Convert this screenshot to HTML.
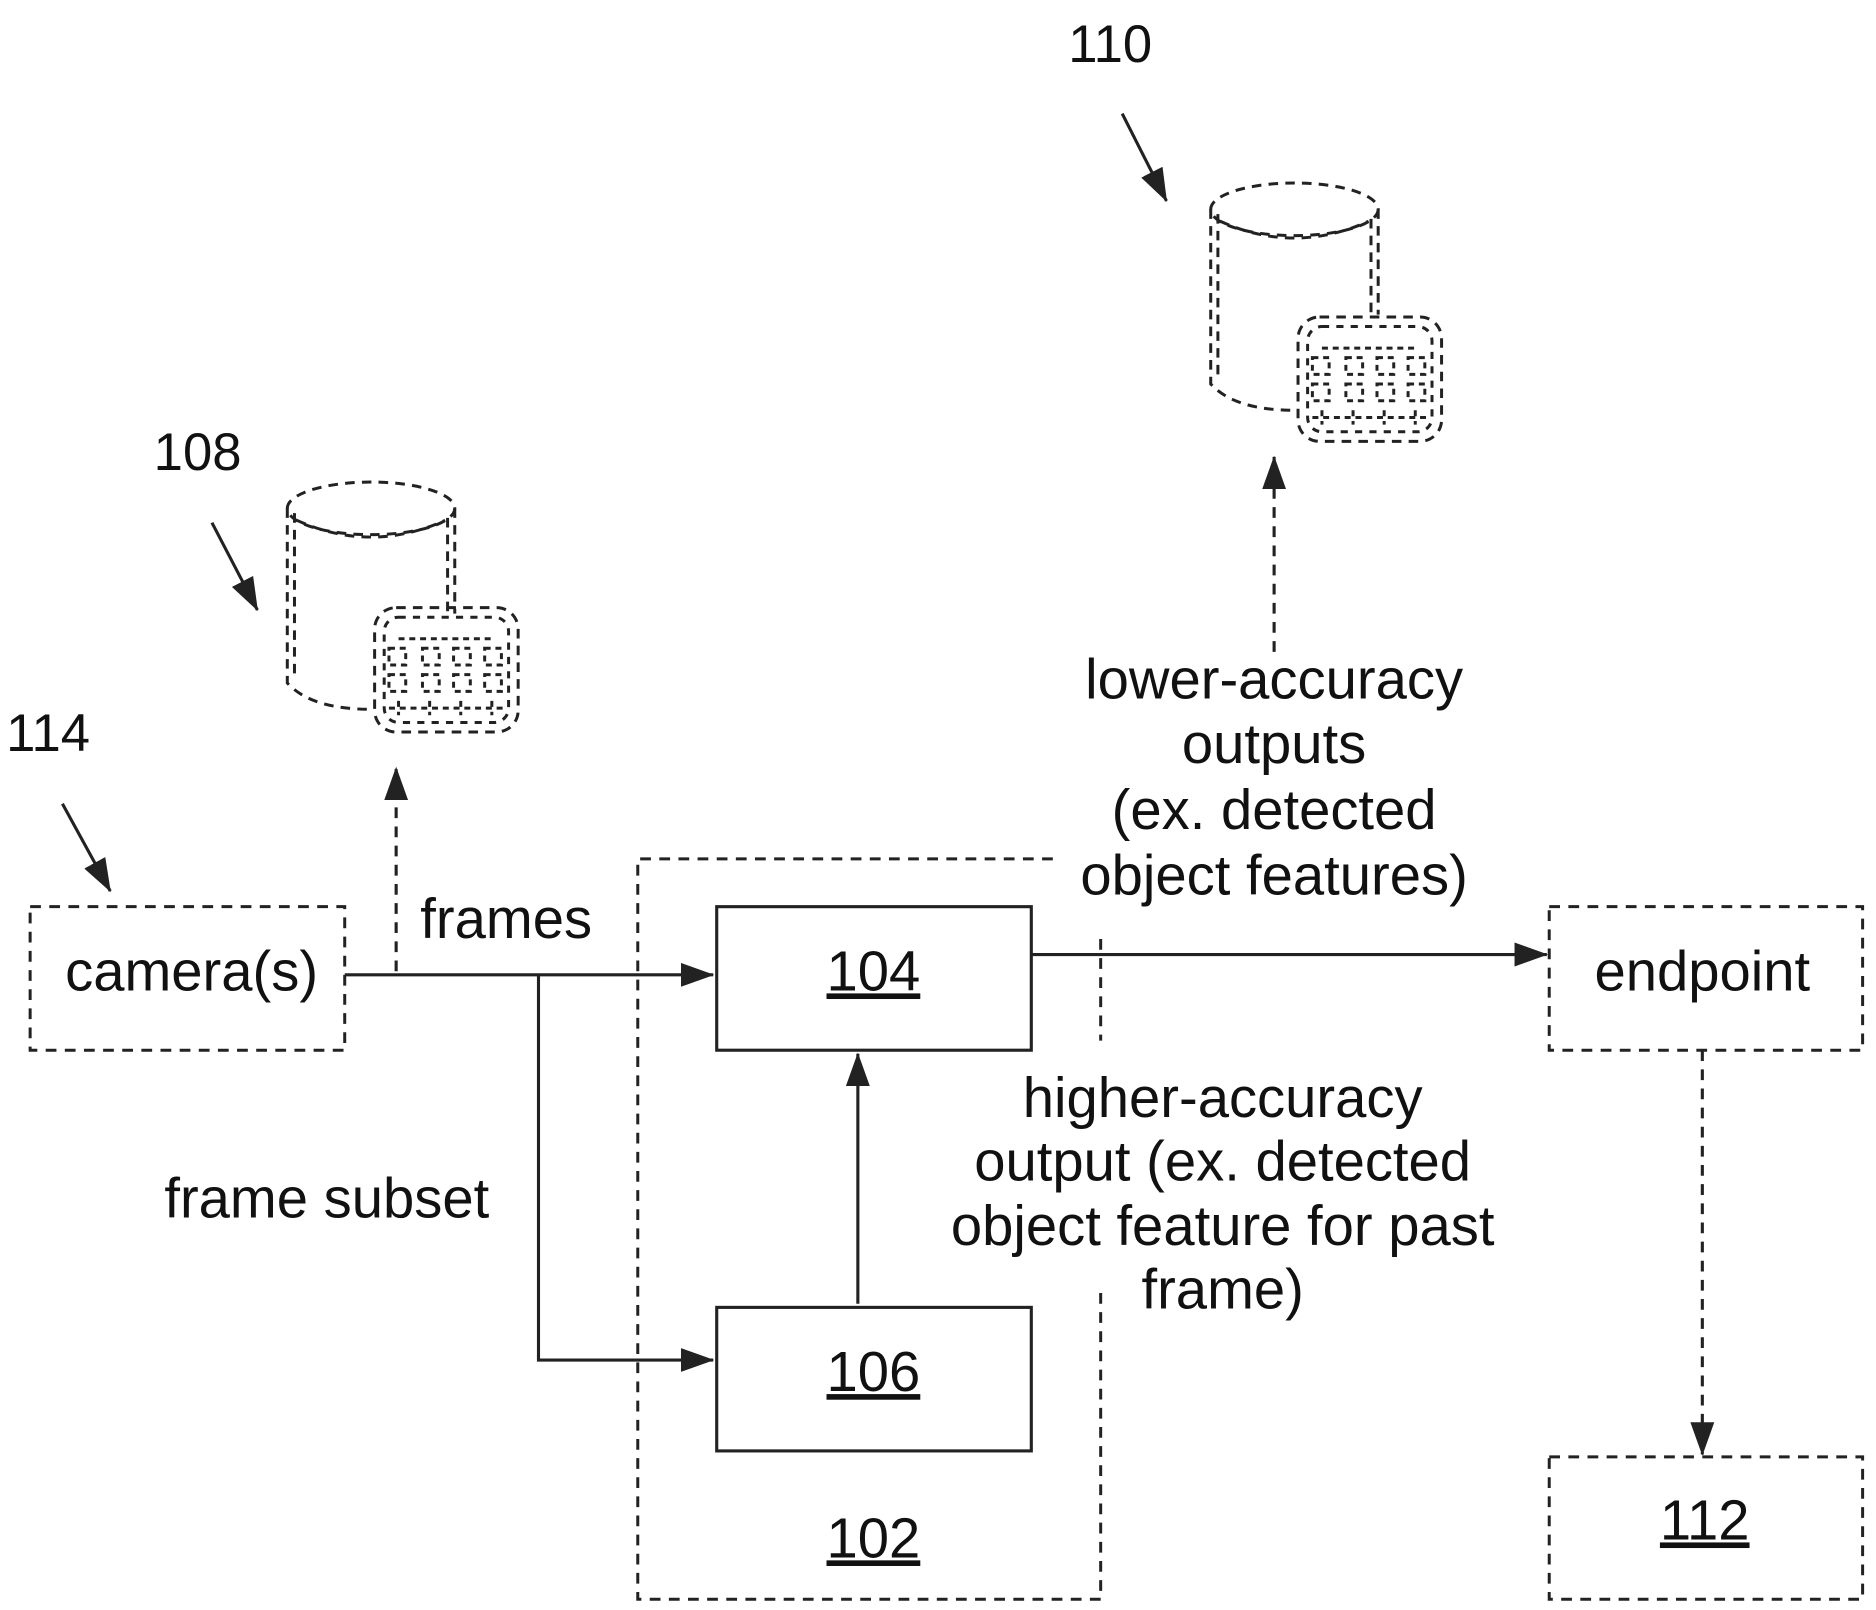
<!DOCTYPE html>
<html><head><meta charset="utf-8"><style>
html,body{margin:0;padding:0;background:#fff;}
svg{display:block;}
text{font-family:"Liberation Sans",sans-serif;fill:#111;}
</style></head><body>
<svg width="1876" height="1610" viewBox="0 0 1568 1346" xmlns="http://www.w3.org/2000/svg">
<defs>
<marker id="b" markerWidth="28" markerHeight="20" refX="27" refY="10" orient="auto" markerUnits="userSpaceOnUse" viewBox="0 0 28 20">
<path d="M0,0 L28,10 L0,20 z" fill="#222"/></marker>
<g id="grid">
<rect x="0" y="0" width="120" height="104" rx="18" fill="none" stroke="#222" stroke-width="2.5" stroke-dasharray="8,6"/>
<rect x="8" y="8" width="104" height="88" rx="12" fill="none" stroke="#222" stroke-width="2.5" stroke-dasharray="6,6"/>
<g stroke="#222" stroke-width="2.5" stroke-dasharray="5,4" fill="none">
<rect x="12" y="34" width="14" height="14"/><rect x="40" y="34" width="14" height="14"/><rect x="66" y="34" width="14" height="14"/><rect x="92" y="34" width="14" height="14"/>
<rect x="12" y="56" width="14" height="14"/><rect x="40" y="56" width="14" height="14"/><rect x="66" y="56" width="14" height="14"/><rect x="92" y="56" width="14" height="14"/>
<path d="M12,84 H108"/><path d="M20,78 V90 M46,78 V90 M72,78 V90 M98,78 V90"/>
<path d="M20,26 H100"/>
</g></g>
<g id="cyl">
<g fill="none" stroke="#222" stroke-width="2.5" stroke-dasharray="8,6">
<ellipse cx="70" cy="22" rx="70" ry="22"/>
<path d="M8,32 Q70,60 132,32"/>
<path d="M0,22 V168 Q20,190 70,190"/>
<path d="M6,26 V165"/>
<path d="M140,22 V110 M134,30 V110"/>
</g></g>
</defs>

<g fill="none" stroke="#222" stroke-width="2.6">
<path d="M938,95 L975,168" marker-end="url(#b)"/>
<path d="M177,437 L215,510" marker-end="url(#b)"/>
<path d="M52,672 L92,745" marker-end="url(#b)"/>
</g>
<use href="#cyl" x="1012" y="153"/>
<use href="#grid" x="1085" y="265"/>
<use href="#cyl" x="240" y="403"/>
<use href="#grid" x="313" y="508"/>

<g font-size="44" text-anchor="middle">
<text x="928" y="52">110</text>
<text x="165" y="393">108</text>
<text x="40" y="628">114</text>
</g>

<g fill="none" stroke="#222" stroke-width="2.5" stroke-dasharray="9,7">
<rect x="25" y="758" width="263" height="120"/>
<rect x="1295" y="758" width="262" height="120"/>
<rect x="1295" y="1218" width="262" height="119"/>
<path d="M880,718 H533 V1337 H920 V1075"/>
<path d="M920,785 V870"/>
</g>
<g fill="none" stroke="#222" stroke-width="2.6" stroke-dasharray="9,7">
<path d="M331,812 V642" marker-end="url(#b)"/>
<path d="M1065,545 V382" marker-end="url(#b)"/>
<path d="M1423,878 V1216" marker-end="url(#b)"/>
</g>
<g fill="none" stroke="#222" stroke-width="2.6">
<rect x="599" y="758" width="263" height="120"/>
<rect x="599" y="1093" width="263" height="120"/>
<path d="M288,815 H596" marker-end="url(#b)"/>
<path d="M450,815 V1137 H596" marker-end="url(#b)"/>
<path d="M717,1090 V881" marker-end="url(#b)"/>
<path d="M862,798 H1293" marker-end="url(#b)"/>
</g>

<g font-size="47" text-anchor="middle">
<text x="160" y="828">camera(s)</text>
<text x="423" y="784">frames</text>
<text x="273" y="1018">frame subset</text>
<text x="730" y="828" text-decoration="underline">104</text>
<text x="730" y="1163" text-decoration="underline">106</text>
<text x="730" y="1302" text-decoration="underline">102</text>
<text x="1423" y="828">endpoint</text>
<text x="1425" y="1287" text-decoration="underline">112</text>
<text x="1065" y="584">lower-accuracy</text>
<text x="1065" y="638">outputs</text>
<text x="1065" y="693">(ex. detected</text>
<text x="1065" y="748">object features)</text>
<text x="1022" y="934">higher-accuracy</text>
<text x="1022" y="987">output (ex. detected</text>
<text x="1022" y="1041">object feature for past</text>
<text x="1022" y="1094">frame)</text>
</g>
</svg>
</body></html>
